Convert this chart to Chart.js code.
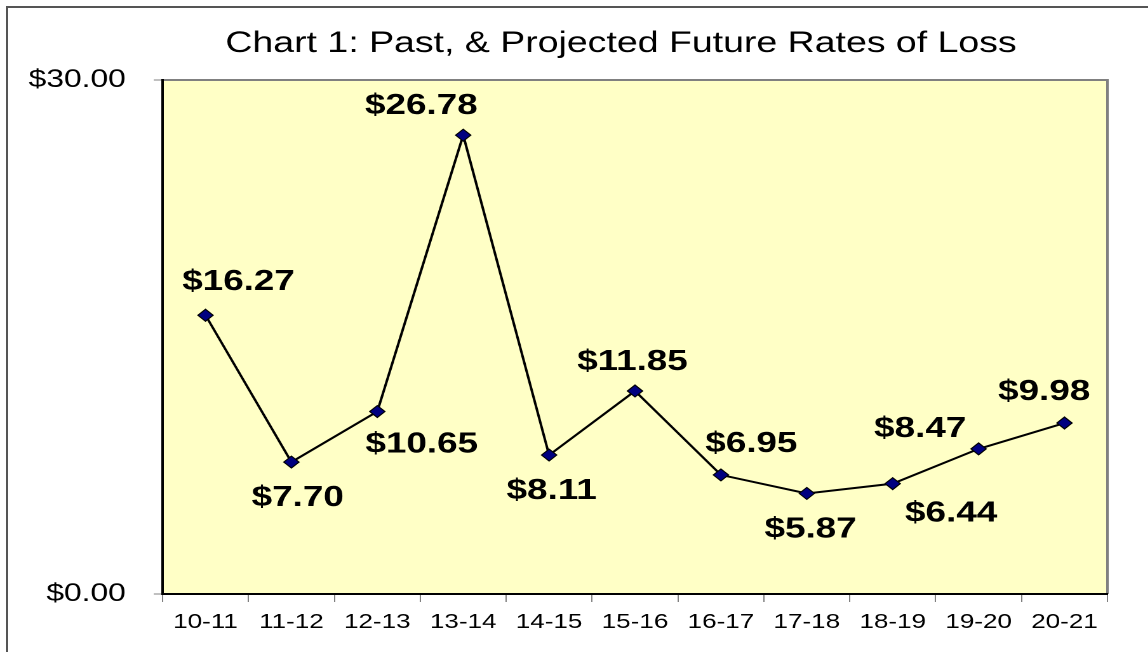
<!DOCTYPE html>
<html>
<head>
<meta charset="utf-8">
<script src="https://cdn.jsdelivr.net/npm/chart.js@4/dist/chart.umd.min.js"></script>
<style>
  html, body { margin: 0; padding: 0; background: #fff; overflow: hidden; }
  #frame {
    position: absolute; left: 6px; top: 6px; width: 1200px; height: 700px;
    border-left: 2px solid #555; border-top: 2px solid #555;
  }
  /* the reference picture is stretched sideways, so the chart is drawn narrow and scaled */
  #wrap {
    position: absolute; left: 0; top: 0; width: 904px; height: 652px;
    transform: scaleX(1.27); transform-origin: 0 0;
  }
</style>
</head>
<body>
<div id="frame"></div>
<div id="wrap"><canvas id="lossChart" width="904" height="652"></canvas></div>
<script>
// Data
const seasons = ["10-11", "11-12", "12-13", "13-14", "14-15", "15-16", "16-17", "17-18", "18-19", "19-20", "20-21"];
const lossRates = [16.27, 7.70, 10.65, 26.78, 8.11, 11.85, 6.95, 5.87, 6.44, 8.47, 9.98];
const yTickValues = [0, 30];
const chartTitle = "Chart 1: Past, & Projected Future Rates of Loss";

// where each value label sits relative to its point (dx, dy)
const labelOffsets = [[26, -33], [5, 36], [35, 33], [-33, -29], [2, 36], [-2, -29], [24, -31], [3, 36], [46, 30], [-46, -20], [-16, -31]];

const FONT = "'Liberation Sans', Arial, sans-serif";
Chart.defaults.color = "#000";
Chart.defaults.font.family = FONT;

const money = (v) => "$" + Number(v).toFixed(2);

// Plot area background, gray frame on top / right, and the title
const plotBackground = {
  id: "plotBackground",
  beforeDraw(chart) {
    const { ctx, chartArea: a } = chart;
    ctx.save();
    ctx.fillStyle = "#FFFFC6";
    ctx.fillRect(a.left, a.top, a.right - a.left, a.bottom - a.top);
    ctx.strokeStyle = "#808080";
    ctx.lineWidth = 2;
    ctx.beginPath();
    ctx.moveTo(a.left, a.top);
    ctx.lineTo(a.right, a.top);
    ctx.lineTo(a.right, a.bottom);
    ctx.stroke();

    ctx.font = "29.5px " + FONT;
    ctx.fillStyle = "#000";
    ctx.textAlign = "center";
    ctx.textBaseline = "middle";
    ctx.fillText(chartTitle, 489, 44);
    ctx.restore();
  },
};

// Value labels
const valueLabels = {
  id: "valueLabels",
  afterDatasetsDraw(chart) {
    const { ctx } = chart;
    const meta = chart.getDatasetMeta(0);
    ctx.save();
    ctx.font = "bold 29px " + FONT;
    ctx.fillStyle = "#000";
    ctx.textAlign = "center";
    ctx.textBaseline = "middle";
    meta.data.forEach((pt, i) => {
      const off = labelOffsets[i];
      ctx.fillText(money(lossRates[i]), pt.x + off[0], pt.y + off[1]);
    });
    ctx.restore();
  },
};

new Chart(document.getElementById("lossChart"), {
  type: "line",
  data: {
    labels: seasons,
    datasets: [
      {
        data: lossRates,
        borderColor: "#000",
        borderWidth: 2,
        tension: 0,
        fill: false,
        pointStyle: "rectRot",
        pointRadius: 6,
        pointBackgroundColor: "#000080",
        pointBorderColor: "#000",
        pointBorderWidth: 1,
      },
    ],
  },
  options: {
    responsive: false,
    devicePixelRatio: 2,
    animation: false,
    layout: { padding: { left: 0, right: 32, top: 80, bottom: 0 } },
    plugins: {
      legend: { display: false },
      tooltip: { enabled: false },
      title: { display: false },
    },
    scales: {
      x: {
        offset: true,
        grid: { offset: true, drawOnChartArea: false, tickLength: 8, color: "#808080" },
        border: { color: "#000", width: 2 },
        ticks: { font: { size: 20.5 }, padding: 8, maxRotation: 0, autoSkip: false },
        afterFit(scale) { scale.height = 58; },
      },
      y: {
        min: 0,
        max: 30,
        grid: { drawOnChartArea: false, tickLength: 7, color: "#808080" },
        border: { color: "#000", width: 2 },
        ticks: { font: { size: 25 }, padding: 22, callback: (v) => money(v) },
        afterBuildTicks(scale) { scale.ticks = yTickValues.map((v) => ({ value: v })); },
        afterFit(scale) { scale.width = 128; },
      },
    },
  },
  plugins: [plotBackground, valueLabels],
});
</script>
</body>
</html>
